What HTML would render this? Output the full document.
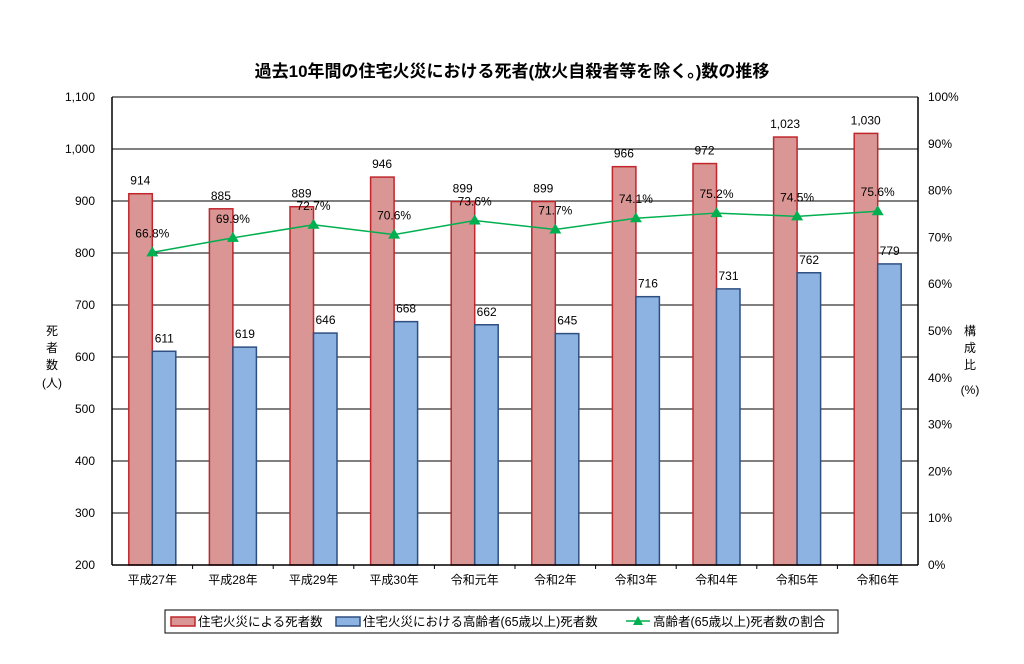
<!DOCTYPE html><html><head><meta charset="utf-8"><style>body{margin:0;background:#fff}svg text{font-family:"Liberation Sans","Noto Sans CJK JP",sans-serif}</style></head><body>
<svg width="1024" height="659" xmlns="http://www.w3.org/2000/svg">
<text x="512" y="77" text-anchor="middle" font-size="17" font-weight="bold">過去10年間の住宅火災における死者(放火自殺者等を除く。)数の推移</text>
<g stroke="#000" stroke-width="1">
<line x1="112" x2="918" y1="97" y2="97"/><line x1="112" x2="918" y1="149" y2="149"/><line x1="112" x2="918" y1="201" y2="201"/><line x1="112" x2="918" y1="253" y2="253"/><line x1="112" x2="918" y1="305" y2="305"/><line x1="112" x2="918" y1="357" y2="357"/><line x1="112" x2="918" y1="409" y2="409"/><line x1="112" x2="918" y1="461" y2="461"/><line x1="112" x2="918" y1="513" y2="513"/>
</g>
<g id="bars"></g>
<line x1="112" x2="112" y1="97" y2="565" stroke="#000" stroke-width="1.5"/>
<line x1="918" x2="918" y1="97" y2="565" stroke="#000" stroke-width="1.5"/>
<line x1="112" x2="918" y1="565" y2="565" stroke="#000" stroke-width="1.5"/>
<g font-size="12" text-anchor="end" id="yl"></g>
<g font-size="12" id="yr"></g>
<g font-size="12" text-anchor="middle">
<text x="52" y="335">死</text><text x="52" y="352">者</text><text x="52" y="369">数</text><text x="52" y="387">(人)</text>
<text x="970" y="335">構</text><text x="970" y="352">成</text><text x="970" y="369">比</text><text x="970" y="394">(%)</text>
</g>
<g id="x" font-size="12" text-anchor="middle"></g>
<rect x="165" y="610" width="673" height="23" fill="#fff" stroke="#000"/>
<rect x="171" y="617" width="24" height="9" fill="#d99694" stroke="#c0262c" stroke-width="1.5"/>
<text x="198" y="626" font-size="12.5">住宅火災による死者数</text>
<rect x="336" y="617" width="24" height="9" fill="#8db3e2" stroke="#2f4f80" stroke-width="1.5"/>
<text x="363" y="626" font-size="12.5">住宅火災における高齢者(65歳以上)死者数</text>
<line x1="626" x2="650" y1="621" y2="621" stroke="#00b050" stroke-width="1.5"/>
<polygon points="638,616 643,625 633,625" fill="#00b050"/>
<text x="653" y="626" font-size="12.5">高齢者(65歳以上)死者数の割合</text>
<g id="line"></g>
</svg>
<script>
var ns="http://www.w3.org/2000/svg";function el(p,t,a,tx){var e=document.createElementNS(ns,t);for(var k in a)e.setAttribute(k,a[k]);if(tx!=null)e.textContent=tx;document.getElementById(p).appendChild(e);return e;}
var cats=["平成27年","平成28年","平成29年","平成30年","令和元年","令和2年","令和3年","令和4年","令和5年","令和6年"];
var a=[914,885,889,946,899,899,966,972,1023,1030],b=[611,619,646,668,662,645,716,731,762,779],p=[66.8,69.9,72.7,70.6,73.6,71.7,74.1,75.2,74.5,75.6];
function Y(v){return 565-(v-200)*0.52}function P(v){return 565-v*4.68}
for(var i=0;i<=9;i++){var v=200+i*100;el("yl","text",{x:95,y:Y(v)+4},v>=1000?(v/1000|0)+","+String(v%1000).padStart(3,"0"):v);}
for(var i=0;i<=10;i++){el("yr","text",{x:928,y:P(i*10)+4},i*10+"%");}
var pts=[];
for(var i=0;i<10;i++){var c=112+80.6*i+40.3;
el("bars","rect",{x:c-23.5,y:Y(a[i]),width:23.5,height:565-Y(a[i]),fill:"#d99694",stroke:"#c0262c","stroke-width":1.5});
el("bars","rect",{x:c,y:Y(b[i]),width:23.5,height:565-Y(b[i]),fill:"#8db3e2",stroke:"#2f4f80","stroke-width":1.5});
el("x","text",{x:c,y:584},cats[i]);
el("x","text",{x:c-12,y:Y(a[i])-9},a[i]>=1000?"1,"+String(a[i]%1000).padStart(3,"0"):a[i]);
el("x","text",{x:c+12,y:Y(b[i])-9},b[i]);
if(i>0)el("bars","line",{x1:112+80.6*i,x2:112+80.6*i,y1:565,y2:569,stroke:"#000"});
pts.push(c+","+P(p[i]));}
el("line","polyline",{points:pts.join(" "),fill:"none",stroke:"#00b050","stroke-width":1.5});
for(var i=0;i<10;i++){var c=112+80.6*i+40.3,y=P(p[i]);el("line","polygon",{points:c+","+(y-6)+" "+(c+6)+","+(y+4)+" "+(c-6)+","+(y+4),fill:"#00b050"});el("x","text",{x:c,y:y-15},p[i].toFixed(1)+"%");}
</script>
</body></html>
